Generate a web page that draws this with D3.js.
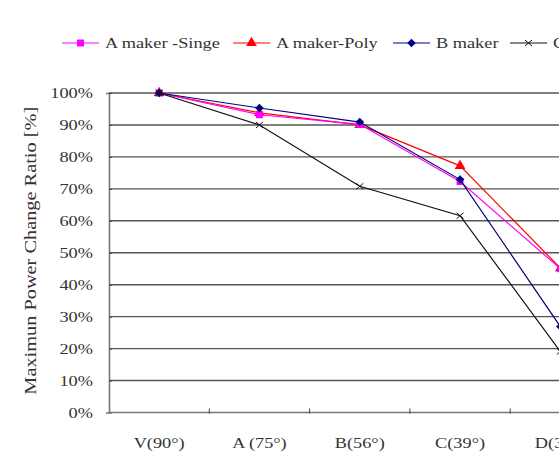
<!DOCTYPE html>
<html><head><meta charset="utf-8">
<script src="https://cdn.jsdelivr.net/npm/d3@7"></script>
<style>body{margin:0;background:#fff;overflow:hidden}svg{display:block}text{font-family:"Liberation Serif","Times New Roman",serif;fill:#333}</style>
</head><body>
<script>
const categories = ["V(90°)", "A (75°)", "B(56°)", "C(39°)", "D(30°)"];
const seriesNames = ["A maker -Singe", "A maker-Poly", "B maker", "C maker"];
const singe = [100, 93.2, 90.2, 72.3, 45.0];
const poly  = [100, 93.8, 90.0, 77.2, 45.2];
const bmaker = [100, 95.3, 90.9, 72.9, 26.9];
const cmaker = [100, 90.0, 70.8, 61.6, 19.1];
const yTicks = [0,10,20,30,40,50,60,70,80,90,100];

(function(){
const W = 559, H = 468;
const svg = d3.select("body").append("svg").attr("width", W).attr("height", H);
const pLeft = 109, pTop = 93, pBottom = 412.5, step = 100.3;
const x = d3.scaleBand().domain(categories).range([pLeft, pLeft + step*categories.length]);
const y = d3.scaleLinear().domain([0,100]).range([pBottom, pTop]);
function stretch(f){ return sel => sel.each(function(){ const l=this.getComputedTextLength(); d3.select(this).attr("textLength", l*f).attr("lengthAdjust","spacingAndGlyphs"); }); }

svg.append("g").selectAll("line").data(yTicks.filter(d=>d>0)).join("line")
  .attr("x1", pLeft).attr("x2", x.range()[1]).attr("y1", d=>y(d)).attr("y2", d=>y(d))
  .attr("stroke", "#555").attr("stroke-width", 1.4);

const yAxis = svg.append("g").attr("transform",`translate(${pLeft},0)`)
  .call(d3.axisLeft(y).tickValues(yTicks).tickFormat(d=>d+"%").tickSize(3).tickPadding(13));
yAxis.select(".domain").attr("stroke","#777").attr("stroke-width",1.6);
yAxis.selectAll(".tick line").attr("stroke","#444").attr("x2",3);
yAxis.selectAll(".tick text").attr("font-size",15.5).attr("fill","#333").style("font-family",'"Liberation Serif",serif').call(stretch(1.18));

const xg = svg.append("g").attr("transform",`translate(0,${pBottom})`);
xg.append("line").attr("x1",pLeft).attr("x2",x.range()[1]).attr("stroke","#777").attr("stroke-width",1.6);
xg.selectAll(".xt").data(categories.slice(1)).join("line").attr("class","xt")
  .attr("x1",d=>x(d)).attr("x2",d=>x(d)).attr("y1",-4).attr("y2",1).attr("stroke","#444");
xg.selectAll(".xl").data(categories).join("text").attr("class","xl")
  .attr("x",d=>x(d)+x.bandwidth()/2).attr("y",35).attr("text-anchor","middle").attr("font-size",15.5)
  .text(d=>d).call(stretch(1.18));

svg.append("text").attr("transform",`translate(36,${(pTop+pBottom)/2 - 2}) rotate(-90)`).attr("text-anchor","middle")
  .attr("font-size",16).text("Maximun Power Change Ratio [%]").call(stretch(1.27));

const cx = d => x(d)+x.bandwidth()/2;
const series = [
  {name: seriesNames[1], vals: poly, color:"#ff0000", sym:d3.symbolTriangle, size:50, rot:0},
  {name: seriesNames[0], vals: singe, color:"#ff00ff", sym:d3.symbolSquare, size:49, rot:0},
  {name: seriesNames[2], vals: bmaker, color:"#000080", sym:d3.symbolSquare, size:36, rot:45},
  {name: seriesNames[3], vals: cmaker, color:"#111", sym:"x", size:0, rot:0}
];
const line = d3.line().x((d,i)=>cx(categories[i])).y(d=>y(d));
function marker(g, s, px, py){
  if(s.sym==="x"){
    g.append("path").attr("d",`M${px-3.5},${py-3}L${px+3.5},${py+3}M${px-3.5},${py+3}L${px+3.5},${py-3}`).attr("stroke",s.color).attr("stroke-width",1).attr("fill","none");
  } else {
    g.append("path").attr("d",d3.symbol().type(s.sym).size(s.size)()).attr("transform",`translate(${px},${py}) rotate(${s.rot})`).attr("fill",s.color);
  }
}
series.forEach(s=>{
  const g = svg.append("g");
  g.append("path").attr("d",line(s.vals)).attr("fill","none").attr("stroke",s.color).attr("stroke-width",1.2);
  s.vals.forEach((v,i)=>marker(g,s,cx(categories[i]),y(v)));
});

const legendX = [62, 233, 393, 510];
const legOrder = [series[1], series[0], series[2], series[3]];
legOrder.forEach((s,i)=>{
  const g = svg.append("g");
  const x0 = legendX[i], ly = 43;
  g.append("line").attr("x1",x0).attr("x2",x0+37).attr("y1",ly).attr("y2",ly).attr("stroke",s.color).attr("stroke-width",1.2);
  marker(g,s,x0+18.5,ly);
  g.append("text").attr("x",x0+43).attr("y",ly+5).attr("font-size",15.5).text(s.name).call(stretch(1.18));
});
})();
</script>
</body></html>
